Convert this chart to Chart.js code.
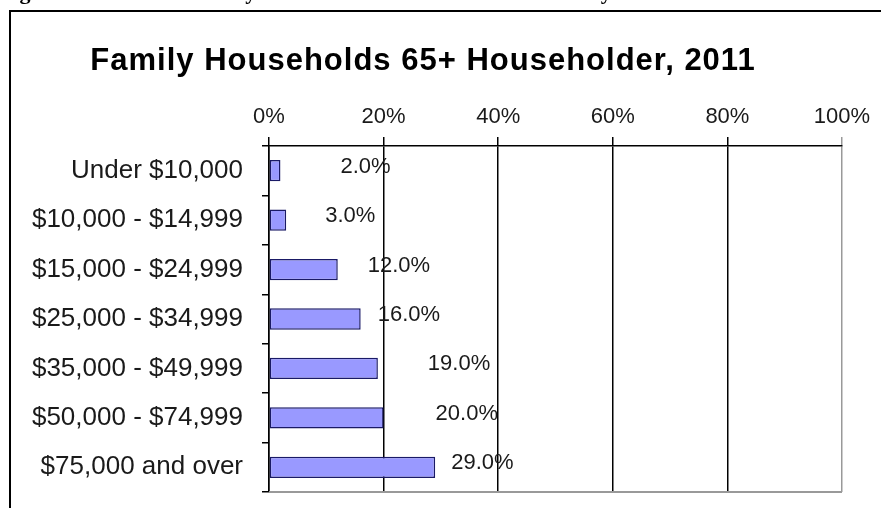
<!DOCTYPE html>
<html>
<head>
<meta charset="utf-8">
<script src="https://cdn.jsdelivr.net/npm/chart.js@4.4.0/dist/chart.umd.min.js"></script>
<style>
  body { margin: 0; background: #fff; }
  canvas { display: block; }
</style>
</head>
<body>
<canvas id="myBarChart" width="881" height="508"></canvas>
<script>
var categories = ['Under $10,000', '$10,000 - $14,999', '$15,000 - $24,999', '$25,000 - $34,999',
                  '$35,000 - $49,999', '$50,000 - $74,999', '$75,000 and over'];
var shares = [2, 3, 12, 16, 19, 20, 29];
var xTicks = [0, 20, 40, 60, 80, 100];
// excel left the value labels scattered a bit, nudge them the same way (px past bar end)
var labelNudge = [60, 39, 30, 17, 50, 52, 16];

var chartTitle = 'Family Households 65+ Householder, 2011';
var pageCaption = 'Figure 4: Income of Family Households with Householder 65+ by Income Level';

var decor = {
    id: 'decor',
    beforeDraw: function(chart){
        let c = chart.ctx;
        c.save();
        c.fillStyle = '#fff';
        c.fillRect(0, 0, chart.width, chart.height);
        // cut off caption from the document above the chart
        c.fillStyle = '#000';
        c.font = 'bold 22px "Liberation Serif"';
        c.textBaseline = 'alphabetic';
        c.textAlign = 'left';
        c.fillText(pageCaption, 0, -1);
        // chart frame
        c.strokeStyle = '#000';
        c.lineWidth = 2;
        c.beginPath();
        c.moveTo(10, chart.height + 2);
        c.lineTo(10, 11);
        c.lineTo(chart.width + 2, 11);
        c.stroke();
        // title
        c.font = 'bold 31px "Liberation Sans"';
        c.letterSpacing = '1px';
        c.textAlign = 'center';
        c.textBaseline = 'middle';
        c.fillText(chartTitle, 423, 61);
        c.restore();
    },
    beforeDatasetsDraw: function(chart){
        let a = chart.chartArea;
        let c = chart.ctx;
        c.save();
        c.strokeStyle = '#999';
        c.lineWidth = 2;
        c.beginPath();
        c.moveTo(a.left, a.bottom);
        c.lineTo(a.right, a.bottom);
        c.stroke();
        c.restore();
    },
    afterDatasetsDraw: function(chart){
        let c = chart.ctx;
        let meta = chart.getDatasetMeta(0);
        c.save();
        c.fillStyle = '#1a1a1a';
        c.font = '22px "Liberation Sans"';
        c.textAlign = 'left';
        c.textBaseline = 'middle';
        meta.data.forEach(function(bar, i){
            c.fillText(shares[i].toFixed(1) + '%', bar.x + labelNudge[i], bar.y - 4);
        });
        c.restore();
    }
};

var ctx = document.getElementById('myBarChart');
var myBarChart = new Chart(ctx, {
    type: 'bar',
    data: {
        labels: categories,
        datasets: [{
            data: shares,
            backgroundColor: '#9999ff',
            borderColor: '#1a1a66',
            borderWidth: 1.5,
            borderSkipped: false,
            barPercentage: 0.43,
            categoryPercentage: 1
        }]
    },
    options: {
        indexAxis: 'y',
        responsive: false,
        animation: false,
        layout: { padding: { left: 0, top: 0, right: 39, bottom: 16 } },
        plugins: {
            legend: { display: false },
            tooltip: { enabled: false }
        },
        scales: {
            x: {
                position: 'top',
                min: 0,
                max: 100,
                afterBuildTicks: function(scale){
                    scale.ticks = xTicks.map(function(v){ return { value: v }; });
                },
                afterFit: function(scale){
                    scale.height = 146;
                    scale.paddingLeft = 0;
                    scale.paddingRight = 0;
                },
                ticks: {
                    callback: function(val){ return val + '%'; },
                    font: { family: 'Liberation Sans', size: 22 },
                    color: '#1a1a1a',
                    padding: 7,
                    maxRotation: 0
                },
                grid: {
                    color: function(c){ return (c.tick && c.tick.value === 100) ? '#999' : '#000'; },
                    lineWidth: 1.5,
                    tickLength: 9
                },
                border: { color: '#000', width: 1.5 }
            },
            y: {
                offset: true,
                afterFit: function(scale){
                    scale.width = 269;
                    scale.paddingTop = 0;
                    scale.paddingBottom = 0;
                },
                ticks: {
                    font: { family: 'Liberation Sans', size: 26 },
                    color: '#1a1a1a',
                    padding: 19
                },
                grid: {
                    offset: true,
                    drawOnChartArea: false,
                    color: '#000',
                    lineWidth: 1.5,
                    tickLength: 7
                },
                border: { color: '#000', width: 1.5 }
            }
        }
    },
    plugins: [decor]
});
</script>
</body>
</html>
